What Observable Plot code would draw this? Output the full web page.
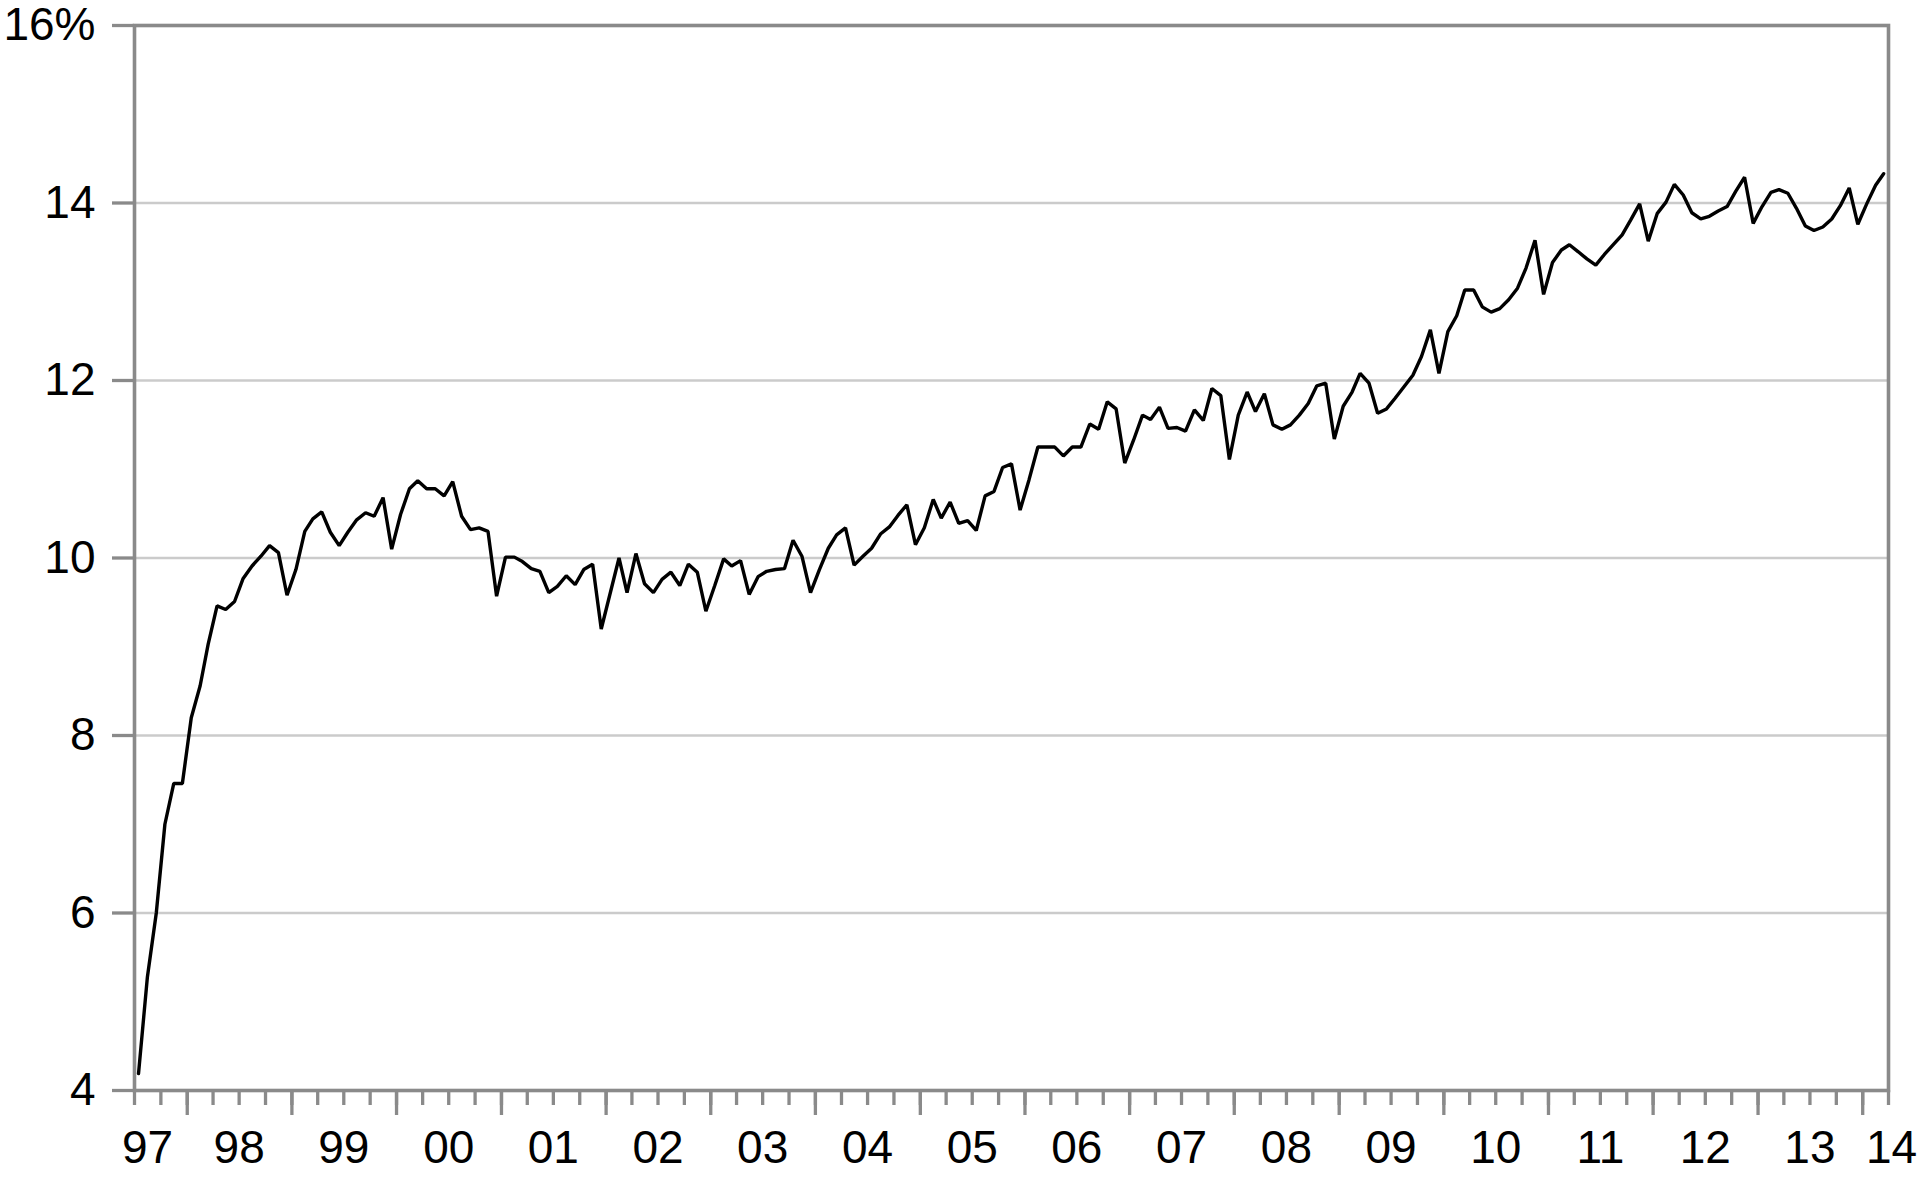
<!DOCTYPE html>
<html>
<head>
<meta charset="utf-8">
<script src="https://cdn.jsdelivr.net/npm/d3@7"></script>
<script src="https://cdn.jsdelivr.net/npm/@observablehq/plot@0.6"></script>
<style>
  html, body { margin: 0; padding: 0; background: #fff; }
  #chart svg { display: block; }
</style>
</head>
<body>
<div id="chart"></div>
<script>
// Monthly values (%), mid-month, Jul 1997 – Mar 2014
const years = [1997, 1998, 1999, 2000, 2001, 2002, 2003, 2004, 2005, 2006, 2007, 2008, 2009, 2010, 2011, 2012, 2013, 2014];
const firstMonth = [6, 0, 0, 0, 0, 0, 0, 0, 0, 0, 0, 0, 0, 0, 0, 0, 0, 0]; // 0 = Jan
const v1997 = [4.19, 5.28, 6.0, 7.0, 7.46, 7.46];
const v1998 = [8.2, 8.56, 9.03, 9.46, 9.42, 9.51, 9.77, 9.91, 10.02, 10.14, 10.06, 9.58];
const v1999 = [9.87, 10.30, 10.44, 10.52, 10.29, 10.14, 10.29, 10.43, 10.51, 10.47, 10.68, 10.10];
const v2000 = [10.49, 10.78, 10.87, 10.78, 10.78, 10.70, 10.86, 10.47, 10.32, 10.34, 10.30, 9.57];
const v2001 = [10.01, 10.01, 9.96, 9.88, 9.85, 9.61, 9.68, 9.80, 9.70, 9.87, 9.93, 9.20];
const v2002 = [9.60, 10.0, 9.61, 10.05, 9.71, 9.61, 9.76, 9.84, 9.69, 9.93, 9.84, 9.40];
const v2003 = [9.69, 9.99, 9.91, 9.97, 9.59, 9.79, 9.85, 9.87, 9.88, 10.20, 10.02, 9.61];
const v2004 = [9.87, 10.11, 10.26, 10.34, 9.92, 10.02, 10.11, 10.27, 10.35, 10.48, 10.60, 10.15];
const v2005 = [10.34, 10.66, 10.45, 10.63, 10.39, 10.42, 10.31, 10.70, 10.75, 11.02, 11.06, 10.54];
const v2006 = [10.88, 11.25, 11.25, 11.25, 11.15, 11.25, 11.25, 11.51, 11.45, 11.76, 11.68, 11.07];
const v2007 = [11.33, 11.61, 11.56, 11.70, 11.46, 11.47, 11.43, 11.67, 11.55, 11.91, 11.83, 11.11];
const v2008 = [11.61, 11.87, 11.65, 11.85, 11.50, 11.45, 11.50, 11.61, 11.74, 11.94, 11.97, 11.34];
const v2009 = [11.71, 11.87, 12.08, 11.97, 11.63, 11.68, 11.80, 11.93, 12.06, 12.27, 12.57, 12.08];
const v2010 = [12.55, 12.73, 13.02, 13.02, 12.83, 12.77, 12.81, 12.91, 13.04, 13.27, 13.58, 12.97];
const v2011 = [13.33, 13.47, 13.53, 13.45, 13.37, 13.30, 13.42, 13.53, 13.64, 13.81, 13.99, 13.57];
const v2012 = [13.88, 14.01, 14.21, 14.09, 13.89, 13.82, 13.85, 13.91, 13.96, 14.13, 14.29, 13.77];
const v2013 = [13.96, 14.12, 14.15, 14.11, 13.94, 13.74, 13.69, 13.73, 13.82, 13.97, 14.17, 13.76];
const v2014 = [13.99, 14.20, 14.33];
const seriesByYear = [v1997, v1998, v1999, v2000, v2001, v2002, v2003, v2004, v2005, v2006, v2007, v2008, v2009, v2010, v2011, v2012, v2013, v2014];

const yearLabels = ["97", "98", "99", "00", "01", "02", "03", "04", "05", "06", "07", "08", "09", "10", "11", "12", "13", "14"];
const yTicks = [4, 6, 8, 10, 12, 14, 16];
const gridValues = [6, 8, 10, 12, 14];

// Build table
const rows = years.flatMap((yr, k) =>
  seriesByYear[k].map((v, j) => ({date: new Date(Date.UTC(yr, firstMonth[k] + j, 15)), value: v}))
);

const xStart = new Date(Date.UTC(1997, 6, 1));
const xEnd = new Date(Date.UTC(2014, 3, 1));
const quarterTicks = d3.utcMonth.every(3).range(xStart, new Date(+xEnd + 1));
const yearTicks = d3.utcYear.range(new Date(Date.UTC(1998, 0, 1)), new Date(+xEnd + 1));

const labelRows = years.map((yr, k) => ({label: yearLabels[k], year: yr}));
const midLabels = labelRows.slice(1, -1).map(d => ({...d, date: new Date(Date.UTC(d.year, 6, 1))}));
const firstLabel = [{label: labelRows[0].label, date: xStart}];
const lastLabel = [{label: labelRows[labelRows.length - 1].label, date: xEnd}];

const axisGray = "#8a8a8a";
const font = "'Liberation Sans', Arial, Helvetica, sans-serif";

const chart = Plot.plot({
  width: 1917,
  height: 1188,
  marginLeft: 134,
  marginRight: 29,
  marginTop: 25,
  marginBottom: 98,
  style: {fontFamily: font, fontSize: "46px", color: "#000", background: "#fff"},
  x: {type: "utc", domain: [xStart, xEnd], axis: null},
  y: {domain: [4, 16], axis: null},
  marks: [
    Plot.ruleY(gridValues, {stroke: "#cbcbcb", strokeWidth: 2.5}),
    Plot.axisY(yTicks, {
      label: null,
      tickSize: 22, tickPadding: 17, stroke: axisGray, strokeWidth: 3.3,
      tickFormat: d => d === 16 ? "16%" : String(d), fill: "#000", fontSize: 46
    }),
    Plot.axisX(quarterTicks, {label: null, tickSize: 15, stroke: axisGray, strokeWidth: 3.3, tickFormat: () => ""}),
    Plot.axisX(yearTicks, {label: null, tickSize: 25, stroke: axisGray, strokeWidth: 3.3, tickFormat: () => ""}),
    Plot.text(midLabels, {x: "date", text: "label", frameAnchor: "bottom", dy: 72, fontSize: 46, fill: "#000"}),
    Plot.text(firstLabel, {x: "date", text: "label", frameAnchor: "bottom", dy: 72, dx: 13, fontSize: 46, fill: "#000"}),
    Plot.text(lastLabel, {x: "date", text: "label", frameAnchor: "bottom", dy: 72, dx: 3, fontSize: 46, fill: "#000"}),
    Plot.frame({stroke: axisGray, strokeWidth: 3.6}),
    Plot.line(rows, {x: "date", y: "value", stroke: "#000", strokeWidth: 3.4, strokeLinejoin: "miter"})
  ]
});
document.getElementById("chart").appendChild(chart);
</script>
</body>
</html>
